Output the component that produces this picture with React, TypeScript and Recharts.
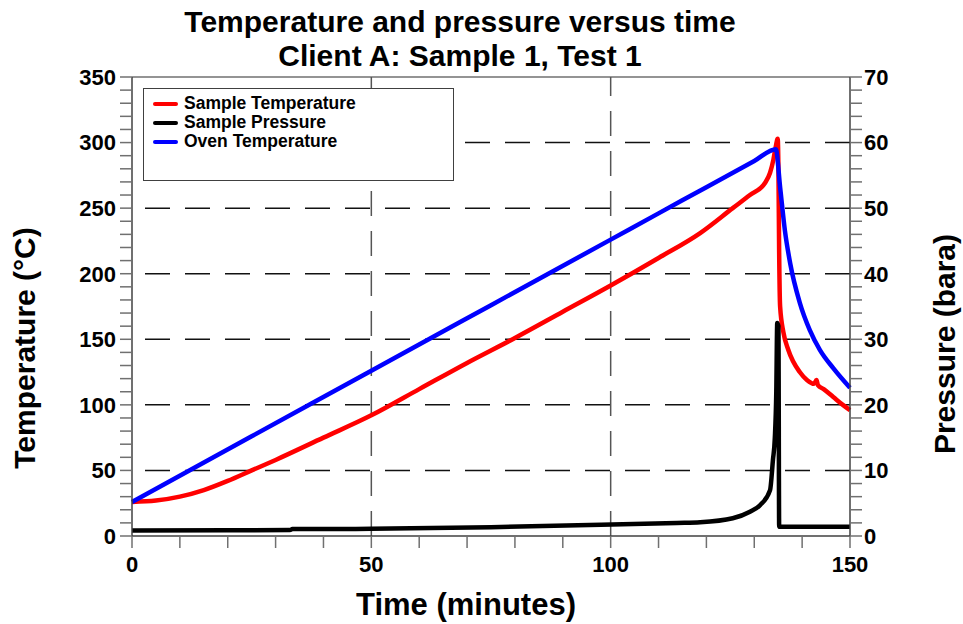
import React from 'react';
import { ComposedChart, Line, XAxis, YAxis, ReferenceLine } from 'recharts';

// Sample temperature (°C) vs time (min)
const sampleTempTime = [0, 5, 10, 15, 20, 25, 30, 40, 50, 60, 70, 80, 90, 100, 110, 118.7, 125.5, 129.1, 132.2, 133.3, 134, 134.5, 134.9, 135.05, 135.2, 135.4, 136.1, 137.1, 139.5, 141, 142.5, 143, 143.3, 144.5, 146.5, 148.5, 150];
const sampleTempValue = [26, 27, 30, 35, 42, 50, 58, 75, 92, 112, 132, 151, 171, 191, 212, 231, 250, 260, 269, 277, 287, 297, 303, 279, 216, 175, 155, 142, 125, 119, 116, 119, 115, 112, 106, 100, 96];

// Sample pressure (bara) vs time (min)
const pressureTime = [0, 33, 33.5, 50, 75, 98, 113.8, 118.7, 125.5, 129.1, 131.2, 133.3, 133.9, 134.3, 134.6, 134.8, 135.05, 135.2, 150];
const pressureValue = [0.85, 0.9, 1.05, 1.1, 1.35, 1.7, 2.0, 2.1, 2.7, 3.7, 4.7, 7, 11.6, 15, 22, 32.5, 32, 1.4, 1.4];

// Oven temperature (°C) vs time (min)
const ovenTime = [0, 25, 50, 75, 100, 110, 120, 130, 134.5, 135.4, 136.4, 137.5, 139.5, 141.6, 143.7, 146.5, 150];
const ovenValue = [26, 76, 126, 176, 226, 246, 266, 286, 295, 266, 233, 208, 178, 157, 142, 128, 113];

const xTicks = [0, 10, 20, 30, 40, 50, 60, 70, 80, 90, 100, 110, 120, 130, 140, 150];
const tempTicks = [0, 10, 20, 30, 40, 50, 60, 70, 80, 90, 100, 110, 120, 130, 140, 150, 160, 170, 180, 190, 200, 210, 220, 230, 240, 250, 260, 270, 280, 290, 300, 310, 320, 330, 340, 350];
const pressTicks = [0, 2, 4, 6, 8, 10, 12, 14, 16, 18, 20, 22, 24, 26, 28, 30, 32, 34, 36, 38, 40, 42, 44, 46, 48, 50, 52, 54, 56, 58, 60, 62, 64, 66, 68, 70];
const hGrid = [50, 100, 150, 200, 250, 300];
const vGrid = [50, 100];

const zip = (ts: number[], vs: number[]) => ts.map((t, i) => ({ t, v: vs[i] }));

const series = [
  { name: 'Sample Temperature', color: '#ff0000', axis: 'temp', data: zip(sampleTempTime, sampleTempValue) },
  { name: 'Sample Pressure', color: '#000000', axis: 'press', data: zip(pressureTime, pressureValue) },
  { name: 'Oven Temperature', color: '#0000ff', axis: 'temp', data: zip(ovenTime, ovenValue) },
];

const font = '"Liberation Sans", Arial, sans-serif';
const tickStyle = { fill: '#000', fontSize: 22, fontWeight: 'bold', fontFamily: font };
const showMajor = (v: number) => (v % 50 === 0 ? String(v) : '');
const showMajorP = (v: number) => (v % 10 === 0 ? String(v) : '');

export default function App() {
  return (
    <div style={{ position: 'absolute', left: 0, top: 0, width: 963, height: 624, background: '#fff' }}>
      <ComposedChart width={963} height={624} margin={{ top: 77, right: 0, bottom: 0, left: 0 }}>
        <XAxis
          dataKey="t"
          type="number"
          domain={[0, 150]}
          ticks={xTicks}
          interval={0}
          height={88}
          tickSize={12}
          tickMargin={8}
          tickFormatter={showMajor}
          tick={tickStyle}
          axisLine={{ stroke: '#404040', strokeWidth: 1.5 }}
          tickLine={{ stroke: '#707070', strokeWidth: 1.5 }}
        />
        <YAxis
          yAxisId="temp"
          orientation="left"
          type="number"
          domain={[0, 350]}
          ticks={tempTicks}
          interval={0}
          width={132}
          tickSize={12}
          tickMargin={4}
          tickFormatter={showMajor}
          tick={tickStyle}
          axisLine={{ stroke: '#404040', strokeWidth: 1.5 }}
          tickLine={{ stroke: '#707070', strokeWidth: 1.5 }}
        />
        <YAxis
          yAxisId="press"
          orientation="right"
          type="number"
          domain={[0, 70]}
          ticks={pressTicks}
          interval={0}
          width={113}
          tickSize={12}
          tickMargin={2}
          tickFormatter={showMajorP}
          tick={tickStyle}
          axisLine={{ stroke: '#404040', strokeWidth: 1.5 }}
          tickLine={{ stroke: '#707070', strokeWidth: 1.5 }}
        />
        <ReferenceLine yAxisId="temp" y={350} stroke="#707070" strokeWidth={1.5} />
        {hGrid.map((v) => (
          <ReferenceLine
            key={'h' + v}
            yAxisId="temp"
            segment={[{ x: 150, y: v }, { x: 0, y: v }]}
            stroke="#111"
            strokeWidth={1.5}
            strokeDasharray="25 15"
          />
        ))}
        {vGrid.map((v) => (
          <ReferenceLine
            key={'v' + v}
            yAxisId="temp"
            segment={[{ x: v, y: 0 }, { x: v, y: 350 }]}
            stroke="#555"
            strokeWidth={1.5}
            strokeDasharray="25 15"
          />
        ))}
        {series.map((s) => (
          <Line
            key={s.name}
            yAxisId={s.axis}
            data={s.data}
            dataKey="v"
            name={s.name}
            type="monotone"
            stroke={s.color}
            strokeWidth={4.5}
            dot={false}
            isAnimationActive={false}
          />
        ))}
      </ComposedChart>

      <div
        style={{
          position: 'absolute',
          left: 143,
          top: 88,
          width: 311,
          height: 93,
          boxSizing: 'border-box',
          border: '1px solid #404040',
          background: '#fff',
          fontFamily: font,
          fontWeight: 'bold',
          fontSize: 17.5,
        }}
      >
        {series.map((s, i) => (
          <div key={s.name} style={{ position: 'absolute', left: 0, top: 5 + i * 19, height: 19, width: '100%' }}>
            <div style={{ position: 'absolute', left: 9, top: 8, width: 25, height: 4, borderRadius: 2, background: s.color }} />
            <div style={{ position: 'absolute', left: 40, top: 0, lineHeight: '19px', color: '#000', whiteSpace: 'nowrap' }}>{s.name}</div>
          </div>
        ))}
      </div>

      <svg width={963} height={624} style={{ position: 'absolute', left: 0, top: 0, pointerEvents: 'none' }}>
        <g fontFamily={font} fontWeight="bold" fill="#000" textAnchor="middle">
          <text x={460} y={32} fontSize={30}>Temperature and pressure versus time</text>
          <text x={460} y={66} fontSize={30}>Client A: Sample 1, Test 1</text>
          <text x={466} y={615} fontSize={31}>Time (minutes)</text>
          <text x={35} y={348} fontSize={30} transform="rotate(-90 35 348)">Temperature (°C)</text>
          <text x={955} y={344} fontSize={30} transform="rotate(-90 955 344)">Pressure (bara)</text>
        </g>
      </svg>
    </div>
  );
}
